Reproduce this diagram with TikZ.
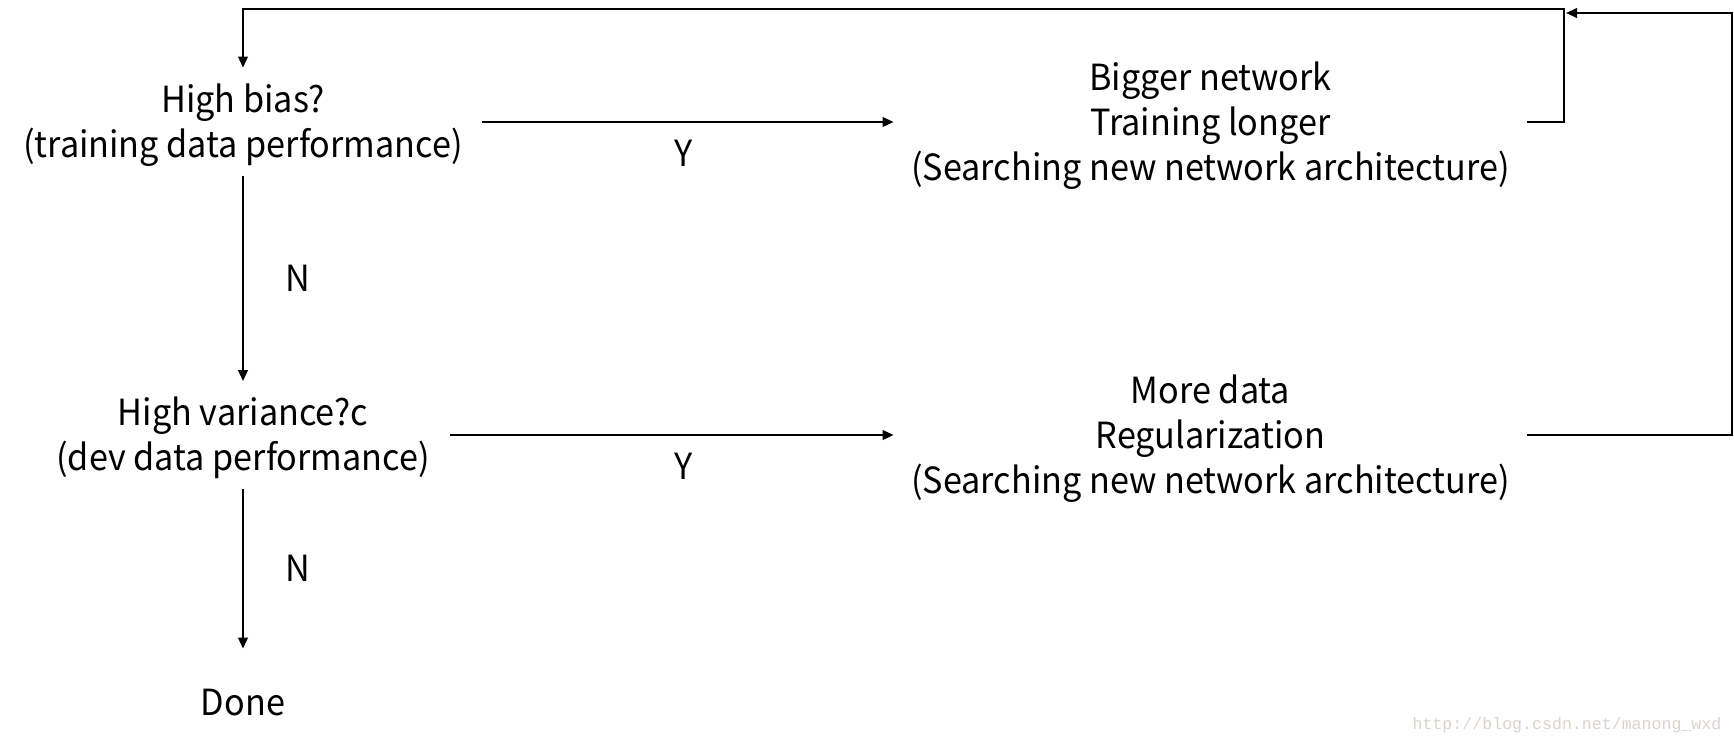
\documentclass[tikz,border=0pt]{standalone}
\usepackage{fontspec}
\setmainfont{Noto Sans CJK SC}[FakeStretch=0.95]
\newfontfamily\wmfont{Liberation Mono}
\usetikzlibrary{arrows.meta}
\definecolor{wmgray}{HTML}{D9D5CD}
\newcommand\myTop{\rule{0pt}{19.2pt}}
\newcommand\myBot{\rule[-5.8pt]{0pt}{0pt}}
\tikzset{
  txt/.style={align=center, inner sep=0pt, font=\fontsize{18}{22.5}\selectfont},
  lbl/.style={inner sep=0pt, font=\fontsize{18}{22.5}\selectfont},
  conn/.style={line width=1pt, -{Triangle[length=5.5pt,width=4.8pt]}},
}
\begin{document}
\begin{tikzpicture}[x=0.5pt,y=-0.5pt]
\useasboundingbox (0,0) rectangle (1734,746);
\node[txt, minimum width=239pt, minimum height=54pt] (hb) at (243,122)
  {\myTop High bias?\\(training data performance)\myBot};
\node[txt, minimum width=207pt, minimum height=53.5pt] (hv) at (243,435)
  {\myTop High variance?c\\(dev data performance)\myBot};
\node[txt, minimum height=53pt] (done) at (243,702) {\myTop Done\myBot};
\node[txt, minimum width=316.5pt, minimum height=50pt] (rb1) at (1210.5,122)
  {\myTop Bigger network\\Training longer\\(Searching new network architecture)\myBot};
\node[txt, minimum width=316.5pt, minimum height=50pt] (rb2) at (1210.5,435)
  {\myTop More data\\Regularization\\(Searching new network architecture)\myBot};
\node[font=\wmfont\fontsize{8.3}{10}\selectfont, text=wmgray, inner sep=0pt] (wm) at (1567,725) {http://blog.csdn.net/manong\_wxd};
\coordinate (c1) at (1564,8.8);
\coordinate (c2) at (1732,13);
\coordinate (c3) at (1566,13);
\draw[conn] (hb.east) -- node[lbl, pos=0.49, yshift=-15.5pt] (y1) {Y} (rb1.west);
\draw[conn] (hv.east) -- node[lbl, pos=0.525, yshift=-15.5pt] (y2) {Y} (rb2.west);
\draw[conn] (hb.south) -- node[lbl, xshift=27.5pt] (n1) {N} (hv.north);
\draw[conn] (hv.south) -- node[lbl, xshift=27.5pt] (n2) {N} (done.north);
\draw[conn] (rb1.east) -| (c1) -| (hb.north);
\draw[conn] (rb2.east) -| (c2) -- (c3);
\end{tikzpicture}
\end{document}
